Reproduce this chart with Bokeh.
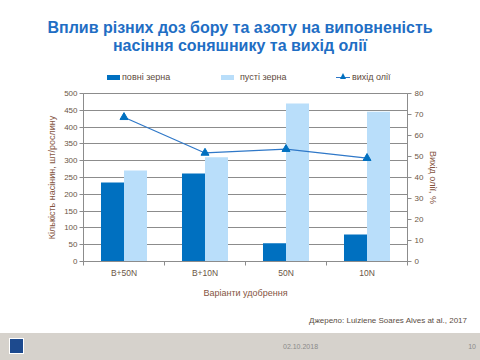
from bokeh.plotting import figure
from bokeh.models import ColumnDataSource, Range1d, LinearAxis, FixedTicker, Div
from bokeh.transform import dodge
from bokeh.layouts import column
from bokeh.embed import file_html
from bokeh.resources import INLINE

# ---- data ----
categories = ["B+50N", "B+10N", "50N", "10N"]
full_seeds = [235, 262, 54, 80]        # повні зерна
empty_seeds = [271, 310, 470, 446]     # пусті зерна
oil_yield = [68.7, 51.7, 53.5, 49.2]   # вихід олії, %
left_ticks = [0, 50, 100, 150, 200, 250, 300, 350, 400, 450, 500]
right_ticks = [0, 10, 20, 30, 40, 50, 60, 70, 80]
series_names = ["повні зерна", "пусті зерна", "вихід олії"]

title_line1 = "Вплив різних доз бору та азоту на виповненість"
title_line2 = "насіння соняшнику та вихід олії"
source_text = "Джерело: Luiziene Soares Alves at al., 2017"
date_text = "02.10.2018"
page_text = "10"

FONT = "Liberation Sans"
DARK = "#0070C0"
LIGHT = "#B9DEFA"
GRID = "#8C8C8C"
TXT = "#6B5646"
AXT = "#85553F"
LEG = "#5E4A3C"

n = len(categories)
slots = [i + 0.5 for i in range(n)]   # category centres on a numeric scale
src = ColumnDataSource(dict(cat=categories, slot=slots, full=full_seeds, empty=empty_seeds, oil=oil_yield))

# ---- header: title + legend ----
header_html = (
    f'<div style="position:relative;width:480px;height:88px;background:white;font-family:\'{FONT}\';">'
    f'<div style="position:absolute;left:0;top:19px;width:480px;text-align:center;font-size:16px;'
    f'line-height:18px;font-weight:bold;color:#1F6EC4;">{title_line1}<br>{title_line2}</div>'
    f'<div style="position:absolute;left:107px;top:75px;width:13px;height:5px;background:{DARK};"></div>'
    f'<span style="position:absolute;left:122px;top:72px;font-size:9px;line-height:10px;color:{LEG};'
    f'white-space:nowrap;">{series_names[0]}</span>'
    f'<div style="position:absolute;left:221px;top:75px;width:13px;height:5px;background:{LIGHT};"></div>'
    f'<span style="position:absolute;left:240px;top:72px;font-size:9px;line-height:10px;color:{LEG};'
    f'white-space:nowrap;">{series_names[1]}</span>'
    f'<div style="position:absolute;left:336px;top:76.5px;width:14px;height:1.2px;background:#2F78C8;"></div>'
    f'<div style="position:absolute;left:340px;top:73px;width:0;height:0;border-left:3px solid transparent;'
    f'border-right:3px solid transparent;border-bottom:6px solid {DARK};"></div>'
    f'<span style="position:absolute;left:352px;top:72px;font-size:9px;line-height:10px;color:{LEG};'
    f'white-space:nowrap;">{series_names[2]}</span>'
    '</div>'
)
header = Div(text=header_html, width=480, height=88, margin=0)

# ---- chart ----
p = figure(width=480, height=226, x_range=Range1d(0, n), y_range=Range1d(0, 500),
           x_axis_location=None, y_axis_location=None, title=None,
           output_backend="svg", toolbar_location=None,
           min_border_left=83, min_border_right=73, min_border_top=5, min_border_bottom=53)
p.extra_y_ranges = {"oil": Range1d(0, 80)}
p.outline_line_color = GRID
p.background_fill_color = "white"
p.border_fill_color = "white"

yl = LinearAxis(ticker=FixedTicker(ticks=left_ticks))
yl.axis_label = "Кількість насінин, шт/рослину"
yr = LinearAxis(y_range_name="oil", ticker=FixedTicker(ticks=right_ticks))
yr.axis_label = "Вихід олії, %"
xb = LinearAxis(ticker=FixedTicker(ticks=slots, minor_ticks=list(range(n + 1))),
                major_label_overrides={s: c for s, c in zip(slots, categories)})
xb.axis_label = "Варіанти удобрення"
for ax in (yl, yr, xb):
    ax.axis_line_color = GRID
    ax.major_tick_line_color = GRID
    ax.minor_tick_line_color = GRID
    ax.major_tick_in = 0
    ax.major_tick_out = 4
    ax.minor_tick_in = 0
    ax.minor_tick_out = 0
    ax.major_label_text_font = FONT
    ax.major_label_text_font_size = "8px"
    ax.major_label_text_color = TXT
    ax.axis_label_text_font = FONT
    ax.axis_label_text_font_size = "9px"
    ax.axis_label_text_font_style = "normal"
    ax.axis_label_text_color = AXT
yl.major_label_standoff = 2
yl.axis_label_standoff = 4
yr.major_label_standoff = 3
yr.axis_label_standoff = 2
xb.major_tick_out = 0
xb.minor_tick_out = 4
xb.major_label_text_font_size = "8.5px"
xb.major_label_standoff = 2
xb.axis_label_standoff = 7
p.add_layout(yl, "left")
p.add_layout(yr, "right")
p.add_layout(xb, "below")

p.xgrid.visible = False
p.ygrid.ticker = FixedTicker(ticks=left_ticks)
p.ygrid.grid_line_color = GRID
p.ygrid.grid_line_width = 1

p.vbar(x=dodge("slot", -0.142), top="full", width=0.284, source=src,
       fill_color=DARK, line_color=None)
p.vbar(x=dodge("slot", 0.142), top="empty", width=0.284, source=src,
       fill_color=LIGHT, line_color=None)
p.line(x="slot", y="oil", source=src, y_range_name="oil", line_color="#2F78C8", line_width=1.2)
p.scatter(x="slot", y="oil", source=src, y_range_name="oil", marker="triangle", size=8,
          fill_color=DARK, line_color=DARK)

# ---- bottom: source + footer band ----
bottom_html = (
    f'<div style="position:relative;width:480px;height:46px;background:white;font-family:\'{FONT}\';">'
    f'<span style="position:absolute;right:13px;top:2px;font-size:8px;line-height:9px;color:#5A4E44;'
    f'white-space:nowrap;">{source_text}</span>'
    '<div style="position:absolute;left:0;top:19px;width:480px;height:27px;background:#D6D2CC;'
    'font-size:7px;line-height:8px;color:#8A8A8A;">'
    '<div style="position:absolute;left:9px;top:5px;width:15px;height:16px;background:#1D4A8E;'
    'border:1px solid white;box-sizing:border-box;"></div>'
    f'<span style="position:absolute;left:283px;top:10px;">{date_text}</span>'
    f'<span style="position:absolute;right:4px;top:10px;">{page_text}</span>'
    '</div></div>'
)
bottom = Div(text=bottom_html, width=480, height=46, margin=0)

layout = column(header, p, bottom, spacing=0)
open("out.html", "w").write(file_html(layout, INLINE))
